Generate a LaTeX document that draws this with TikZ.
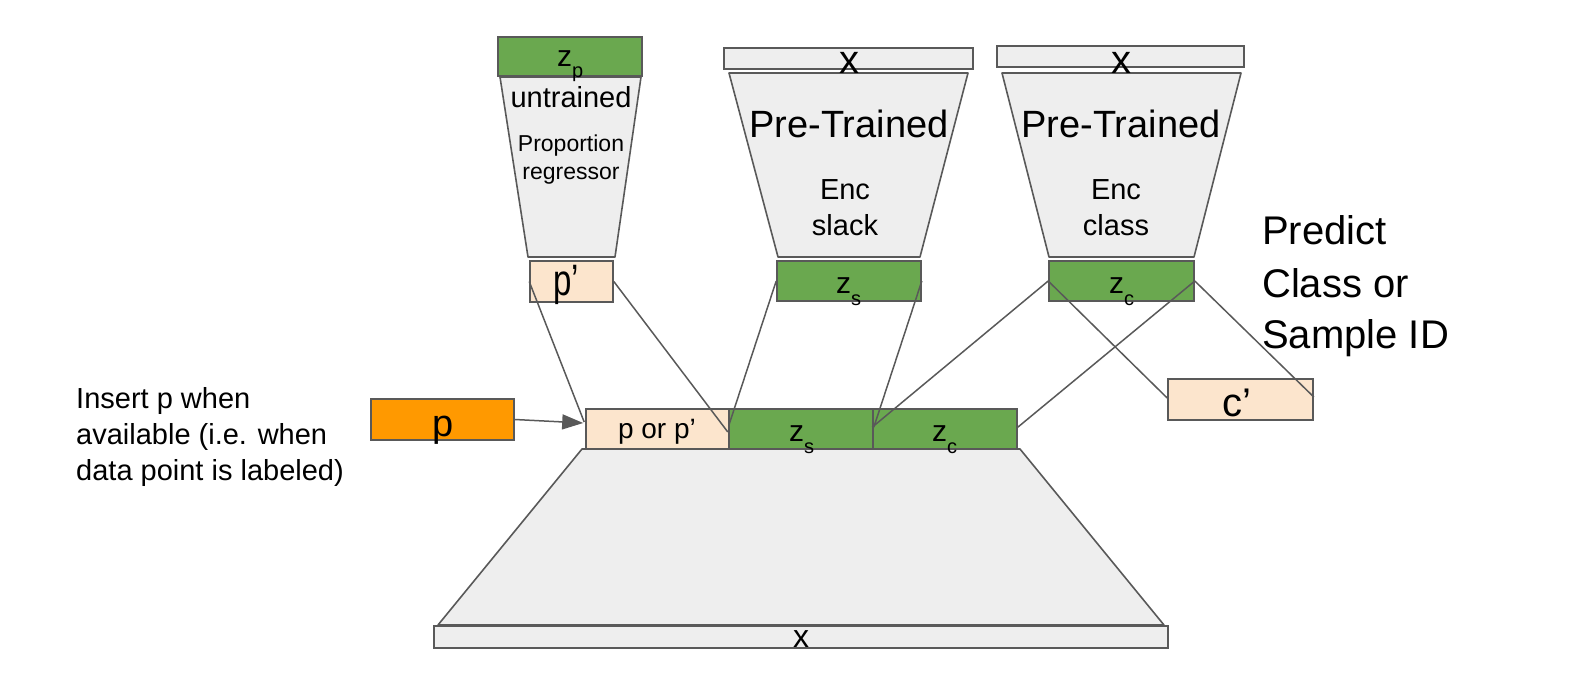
\documentclass[tikz,border=0pt]{standalone}
\usepackage{fontspec}
\setmainfont{Liberation Sans}
\usetikzlibrary{arrows.meta,calc}
\definecolor{zgreen}{HTML}{6AA84F}
\definecolor{edgegray}{HTML}{595959}
\definecolor{lgray}{HTML}{EEEEEE}
\definecolor{peach}{HTML}{FCE5CD}
\definecolor{orng}{HTML}{FF9900}
\newcommand\fsz[1]{\fontsize{#1}{#1}\selectfont}
\begin{document}
\begin{tikzpicture}[x=1pt,y=-1pt,
  box/.style={draw=edgegray,line width=1.6pt,inner sep=0pt,rectangle},
  greenbox/.style={box,fill=zgreen},
  peachbox/.style={box,fill=peach},
  graybox/.style={box,fill=lgray},
  orangebox/.style={box,fill=orng},
  trap/.style={draw=edgegray,fill=lgray,line width=1.6pt,line join=round},
  txt/.style={inner sep=0pt,anchor=base,text=black},
  ltxt/.style={inner sep=0pt,anchor=base west,text=black},
  conn/.style={draw=edgegray,line width=1.5pt},
  arr/.style={conn,-{Triangle[length=21pt,width=15pt]}}]
\useasboundingbox (0,0) rectangle (1572,679);

% trapezoids (encoders)
\draw[trap] (500,77) -- (641,77) -- (615,257) -- (528,257) -- cycle;
\draw[trap] (729,73) -- (968,73) -- (920,257) -- (778,257) -- cycle;
\draw[trap] (1002,73) -- (1241,73) -- (1194,257) -- (1049,257) -- cycle;
\draw[trap] (582,449) -- (1020,449) -- (1164,625) -- (438,625) -- cycle;

% boxes
\node[greenbox,minimum width=144,minimum height=39] (zp) at (570,56.5) {};
\node[peachbox,minimum width=83,minimum height=41] (pp) at (571.5,281.5) {};
\node[graybox,minimum width=249,minimum height=21] (xs) at (848.5,58.5) {};
\node[greenbox,minimum width=144,minimum height=40] (zs) at (849,281) {};
\node[graybox,minimum width=247,minimum height=21] (xc) at (1120.5,56.5) {};
\node[greenbox,minimum width=145,minimum height=40] (zc) at (1121.5,281) {};
\node[peachbox,minimum width=145,minimum height=41] (cp) at (1240.5,399.5) {};
\node[orangebox,minimum width=143,minimum height=41] (po) at (442.5,419.5) {};
\node[peachbox,minimum width=143,minimum height=40] (pbar) at (657.5,429) {};
\node[greenbox,minimum width=144,minimum height=40] (zsbar) at (801,429) {};
\node[greenbox,minimum width=144,minimum height=40] (zcbar) at (945,429) {};
\node[graybox,minimum width=734,minimum height=22] (xb) at (801,637) {};

% texts
\node[ltxt] (tzp) at (557,67) {\fsz{30}z\raisebox{-11pt}{\fsz{20}p}};
\node[txt] (tun) at (571,108) {\fsz{29}untrained};
\node[txt] (tprop1) at (571,152) {\fsz{23}Proportion};
\node[txt] (tprop2) at (571,180) {\fsz{23}regressor};
\node[txt] (tpp) at (566,295) {\scalebox{0.75}[1]{\fsz{44}p’}};

\node[txt] (txs) at (849,74) {\fsz{40}x};
\node[txt] (tpts) at (849,138) {\fsz{38}Pre-Trained};
\node[txt] (tenc1) at (845,200) {\fsz{29}Enc};
\node[txt] (tslack) at (845,236) {\fsz{29}slack};
\node[ltxt] (tzs) at (836,294) {\fsz{30}z\raisebox{-12pt}{\fsz{20}s}};

\node[txt] (txc) at (1121,74) {\fsz{40}x};
\node[txt] (tptc) at (1121,138) {\fsz{38}Pre-Trained};
\node[txt] (tenc2) at (1116,200) {\fsz{29}Enc};
\node[txt] (tclass) at (1116,236) {\fsz{29}class};
\node[ltxt] (tzc) at (1109,294) {\fsz{30}z\raisebox{-12pt}{\fsz{20}c}};

\node[txt] (tcp) at (1237,416) {\fsz{40}c’};
\node[txt] (tpo) at (443,436) {\fsz{38}p};
\node[txt] (tpbar) at (657,438) {\fsz{28}p or p’};
\node[ltxt] (tzsb) at (789,441) {\fsz{30}z\raisebox{-12pt}{\fsz{20}s}};
\node[ltxt] (tzcb) at (932,441) {\fsz{30}z\raisebox{-12pt}{\fsz{20}c}};
\node[txt] (txb) at (801,647) {\fsz{32}x};

\node[ltxt] (pr1) at (1262,245) {\fsz{40}Predict};
\node[ltxt] (pr2) at (1262,297) {\fsz{40}Class or};
\node[ltxt] (pr3) at (1262,348) {\fsz{40}Sample ID};

\node[ltxt] (in1) at (76,408) {\fsz{29}Insert p when};
\node[ltxt] (in2) at (76,444) {\fsz{29}available (i.e. when};
\node[ltxt] (in3) at (76,480) {\fsz{29}data point is labeled)};

% connectors
\draw[conn] (pp.west) -- ($(pbar.west)+(-1,-7)$);
\draw[conn] (pp.east) -- ($(pbar.east)+(-2,3)$);
\draw[conn] (zs.west) -- ($(zsbar.north west)+(1,16)$);
\draw[conn] (zs.east) -- ($(zsbar.north east)+(0,19)$);
\draw[conn] (zc.west) -- ($(zcbar.north west)+(0,19)$);
\draw[conn] (zc.east) -- ($(zcbar.north east)+(0,19)$);
\draw[conn] (zc.west) -- ($(cp.west)+(0,-1.5)$);
\draw[conn] (zc.east) -- ($(cp.east)+(0,-2.5)$);
\draw[arr] (po.east) -- ($(pbar.west)+(-2,-6)$);
\end{tikzpicture}
\end{document}
